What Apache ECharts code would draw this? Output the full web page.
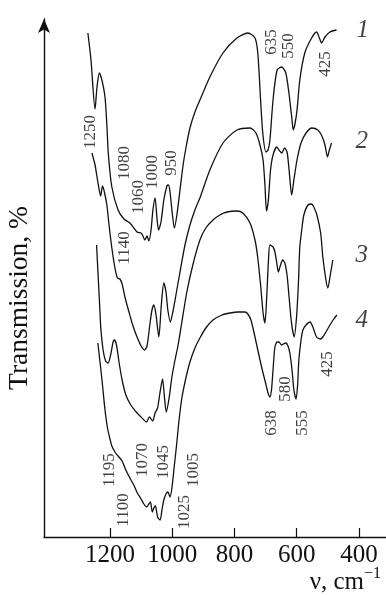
<!DOCTYPE html>
<html><head><meta charset="utf-8">
<script src="https://cdn.jsdelivr.net/npm/echarts@6/dist/echarts.min.js"></script>
<style>html,body{margin:0;padding:0;background:#fff}#c{width:386px;height:595px}</style>
</head><body><div id="c"></div>
<script>
// wavenumber tick labels (cm^-1)
const xTicks = [1200, 1000, 800, 600, 400];

// spectra: [wavenumber, transmission (offset, arbitrary units)]
const curve1 = [[1271,504],[1261,477],[1248,428],[1242,449],[1234,464],[1226,457],[1216,440],[1210,412],[1205,382],[1194,350],[1174,327],[1155,318],[1136,314],[1113,305],[1100,304],[1094,301],[1088,297],[1081,301],[1075,296],[1068,307],[1062,327],[1055,339],[1049,319],[1044,307],[1036,315],[1027,337],[1017,351],[1012,352],[1007,345],[1001,327],[993,309],[985,322],[975,347],[965,372],[956,389],[943,409],[927,425],[911,437],[879,460],[837,484],[792,499],[757,504],[734,499],[725,484],[716,437],[709,404],[699,385],[692,387],[686,397],[676,437],[663,467],[648,470],[635,464],[625,444],[616,420],[611,407],[600,424],[590,457],[574,484],[552,499],[536,505],[527,499],[520,494],[509,500],[493,505],[472,507]];
const curve2 = [[1258,384],[1248,372],[1239,355],[1230,341],[1224,351],[1218,345],[1210,332],[1203,312],[1194,289],[1184,269],[1176,259],[1168,258],[1161,253],[1152,240],[1139,225],[1126,211],[1113,200],[1100,191],[1089,187],[1081,191],[1072,212],[1065,227],[1059,232],[1052,222],[1043,200],[1035,232],[1027,254],[1020,245],[1014,227],[1006,215],[998,225],[988,242],[975,265],[959,292],[943,312],[927,327],[911,339],[879,367],[837,394],[792,407],[750,409],[731,404],[718,392],[708,377],[702,352],[697,326],[691,337],[684,367],[676,382],[664,390],[657,387],[648,384],[639,389],[631,385],[625,369],[616,342],[609,357],[599,377],[586,394],[570,404],[551,409],[532,407],[519,401],[509,392],[501,380],[495,387],[488,394]];
const curve3 = [[1243,292],[1239,267],[1234,237],[1229,207],[1222,187],[1214,176],[1206,174],[1198,182],[1190,195],[1186,197],[1179,192],[1171,175],[1161,157],[1149,142],[1133,132],[1113,124],[1097,119],[1083,115],[1073,120],[1063,116],[1055,124],[1047,129],[1039,145],[1031,158],[1025,140],[1019,125],[1010,139],[1001,160],[991,177],[981,192],[969,215],[953,245],[933,273],[911,297],[892,309],[869,317],[847,322],[824,325],[792,326],[773,324],[750,314],[734,297],[725,279],[716,252],[708,224],[702,214],[696,242],[691,275],[686,292],[676,290],[670,285],[663,272],[659,265],[652,272],[645,277],[638,274],[631,262],[625,242],[617,215],[608,200],[600,222],[594,257],[590,290],[583,309],[577,322],[564,332],[552,333],[545,330],[535,322],[523,304],[516,280],[506,257],[500,249],[491,264],[484,277]];
const curve4 = [[1239,194],[1232,175],[1224,152],[1216,127],[1208,109],[1200,98],[1194,91],[1184,85],[1174,81],[1161,76],[1149,67],[1136,59],[1122,51],[1112,44],[1100,38],[1091,33],[1082,30],[1075,33],[1070,35],[1064,25],[1059,29],[1054,31],[1047,20],[1039,17],[1033,27],[1027,37],[1020,43],[1014,45],[1007,40],[1001,49],[994,69],[986,92],[978,117],[969,139],[956,159],[943,175],[927,189],[911,199],[892,209],[869,217],[840,222],[814,224],[789,225],[766,225],[757,223],[747,217],[734,200],[725,187],[712,169],[700,154],[692,144],[686,140],[681,147],[676,167],[670,190],[663,195],[657,195],[649,192],[643,193],[635,194],[628,191],[622,184],[615,167],[609,147],[602,138],[597,152],[593,177],[586,197],[580,207],[570,212],[557,215],[548,210],[536,200],[523,198],[516,200],[506,205],[493,212],[483,217],[471,222]];

// band annotations: [text, wavenumber, transmission]
const bandLabels = [['1250',1261,405],['1080',1152,374],['1060',1107,340],['1000',1062,365],['950',1001,374],['1140',1152,289],['635',680,495],['550',625,491],['425',506,473],['1195',1200,67],['1100',1157,27],['1070',1096,77],['1045',1027,75],['1025',959,25],['1005',932,67],['638',681,114],['580',635,148],['555',580,114],['425',500,173]];
// curve numbers: [text, wavenumber, transmission]
const curveNames = [['1',388,507],['2',391,396],['3',391,282],['4',391,217]];

const SERIF = '"Liberation Serif", "DejaVu Serif", serif';
const lineSeries = [curve1, curve2, curve3, curve4].map(d => ({
  type: 'line', data: d, showSymbol: false, smooth: 0.25, silent: true,
  lineStyle: { color: '#111', width: 1.3 }
}));

const chart = echarts.init(document.getElementById('c'), null, { renderer: 'canvas' });
chart.setOption({
  animation: false,
  backgroundColor: '#fff',
  grid: { left: 44, right: 0, top: 19, bottom: 58, containLabel: false },
  xAxis: {
    type: 'value', min: 313, max: 1412, inverse: true,
    splitLine: { show: false },
    axisLine: { lineStyle: { color: '#111', width: 1.4 } },
    axisTick: { customValues: xTicks, inside: true, length: 9, lineStyle: { color: '#111', width: 1.2 } },
    axisLabel: { customValues: xTicks, formatter: v => String(v), color: '#111', fontSize: 25, fontFamily: SERIF, margin: 6 }
  },
  yAxis: {
    type: 'value', min: 0, max: 518,
    splitLine: { show: false },
    axisLine: { show: true, symbol: ['none', 'arrow'], symbolSize: [9, 14], lineStyle: { color: '#111', width: 1.4 } },
    axisTick: { show: false }, axisLabel: { show: false }
  },
  graphic: [
    { type: 'text', x: 20, y: 298, rotation: Math.PI / 2,
      style: { text: 'Transmission, %', font: '27.5px ' + SERIF, fill: '#111', align: 'center', verticalAlign: 'middle' } },
    { type: 'text', right: 5, top: 566,
      style: { text: '{a|ν, cm}{b|−1}', fill: '#111',
        rich: { a: { fontSize: 25, fontFamily: SERIF, color: '#111', padding: [8, 0, 0, 0] },
                b: { fontSize: 16, fontFamily: SERIF, color: '#111', padding: [0, 0, 8, 0] } } } }
  ],
  series: lineSeries.concat([
    { type: 'scatter', data: bandLabels.map(a => [a[1], a[2], a[0]]), symbolSize: 0, silent: true,
      label: { show: true, position: 'inside', rotate: 90, formatter: p => p.value[2], color: '#111', fontSize: 17, fontFamily: SERIF } },
    { type: 'scatter', data: curveNames.map(a => [a[1], a[2], a[0]]), symbolSize: 0, silent: true,
      label: { show: true, position: 'inside', formatter: p => p.value[2], color: '#111', fontSize: 25, fontStyle: 'italic', fontFamily: SERIF } }
  ])
});
</script></body></html>
